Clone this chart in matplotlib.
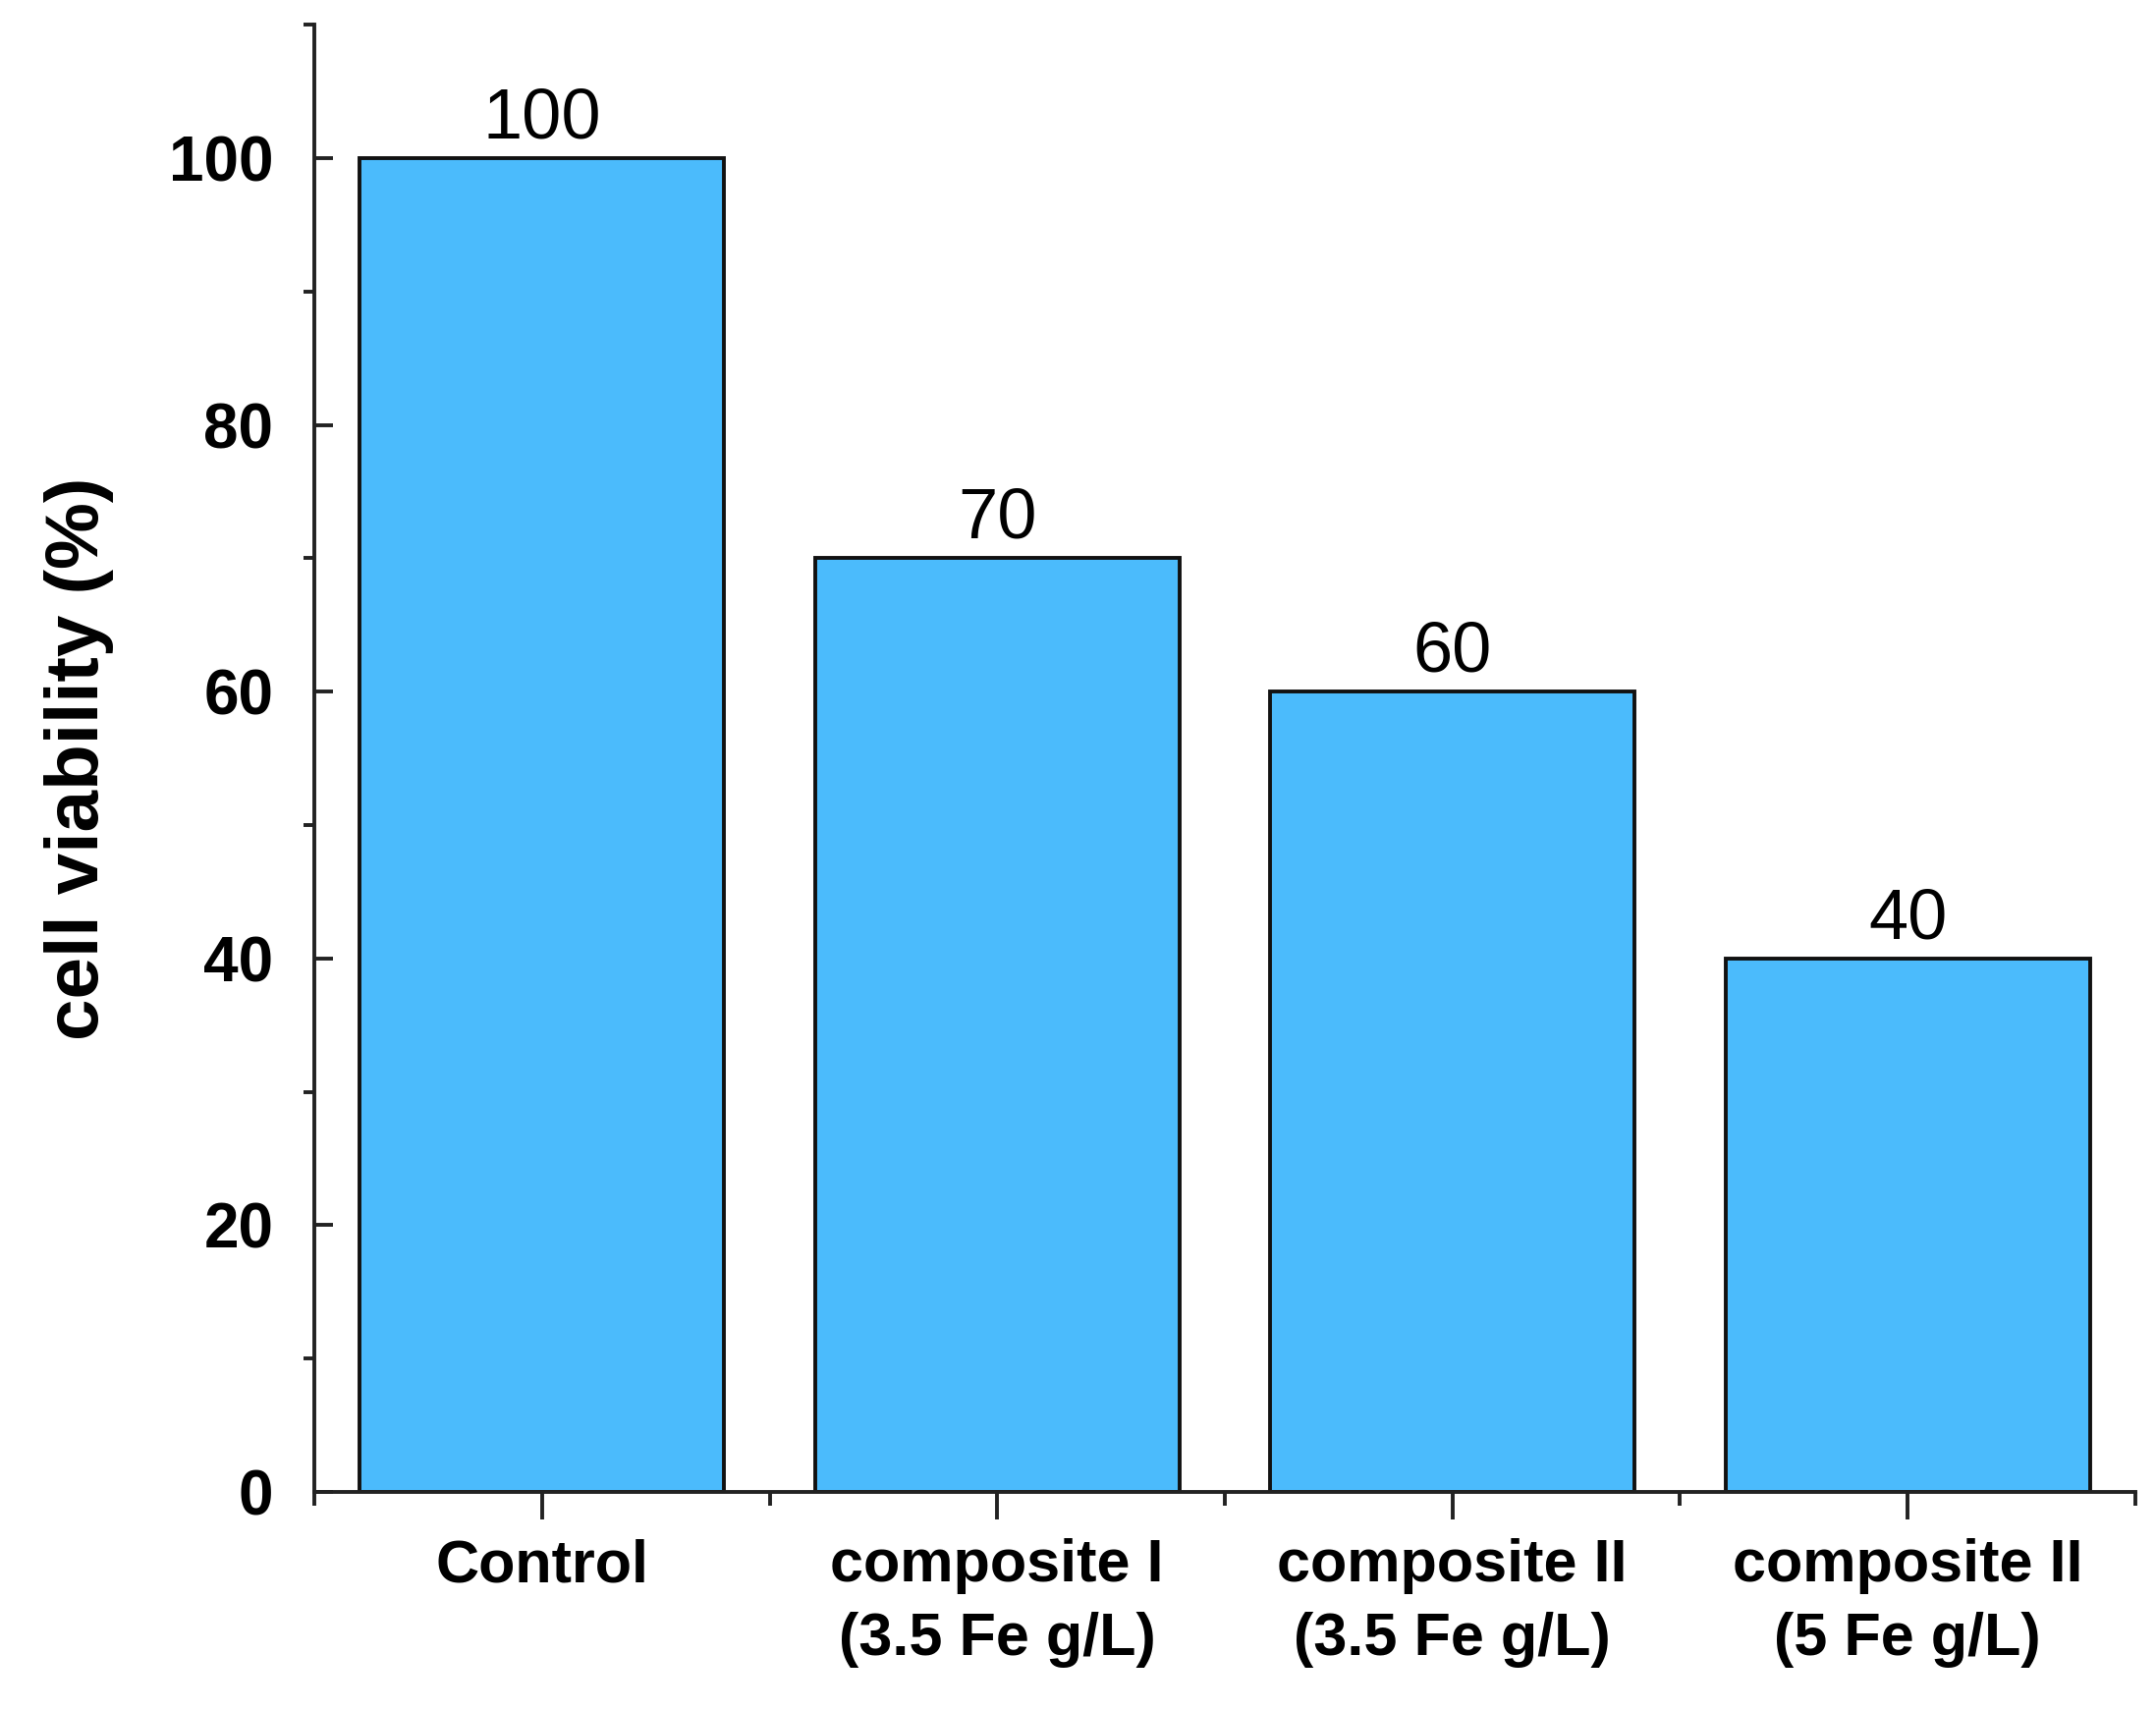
import matplotlib
matplotlib.use("Agg")
import matplotlib.pyplot as plt
import numpy as np

plt.rcParams['font.family'] = ['Liberation Sans', 'DejaVu Sans']

categories = ['Control', 'composite I\n(3.5 Fe g/L)', 'composite II\n(3.5 Fe g/L)', 'composite II\n(5 Fe g/L)']
viability = [100, 70, 60, 40]
y_major = [0, 20, 40, 60, 80, 100]

fig = plt.figure(figsize=(21.95, 17.41), dpi=100)
ax = fig.add_axes([0.1458, 0.1275, 0.8446, 0.8581])

x = np.arange(len(categories))
bars = ax.bar(x, viability, width=0.8, color='#4bbbfc', edgecolor='#111111', linewidth=2.8)
ax.bar_label(bars, labels=[str(v) for v in viability], padding=4, fontsize=52)

ax.set_xlim(-0.5, len(categories) - 0.5)
ax.set_ylim(0, 110)

for s in ['top', 'right']:
    ax.spines[s].set_visible(False)
for s in ['left', 'bottom']:
    ax.spines[s].set_linewidth(2.8)
    ax.spines[s].set_color('#222222')

ax.set_xticks(x)
ax.set_xticklabels(categories, fontsize=44, fontweight='bold', linespacing=1.4)
ax.set_xticks(np.arange(-0.5, len(categories)), minor=True)
ax.set_yticks(y_major)
ax.set_yticklabels([str(v) for v in y_major], fontsize=46, fontweight='bold')
ax.set_yticks(np.arange(10, 111, 20), minor=True)

ax.tick_params(axis='x', which='major', direction='out', length=20, width=2.8, color='#222222', pad=14)
ax.tick_params(axis='x', which='minor', direction='out', length=10, width=2.8, color='#222222')
ax.tick_params(axis='y', which='major', direction='in', length=14, width=2.8, color='#222222', pad=30)
ax.tick_params(axis='y', which='minor', direction='out', length=8, width=2.8, color='#222222')

ax.set_ylabel('cell viability (%)', fontsize=55, fontweight='bold', labelpad=40)

fig.savefig('out.png', dpi=100)
